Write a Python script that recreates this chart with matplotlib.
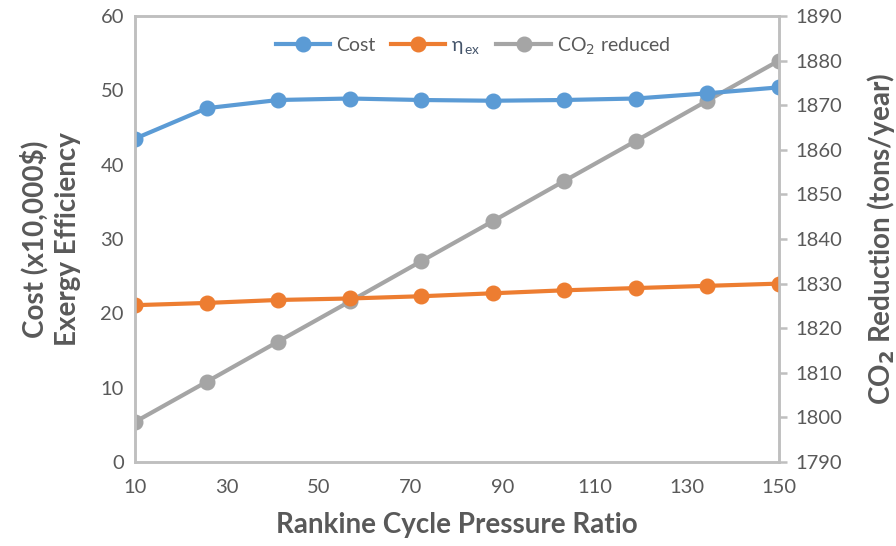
import matplotlib.pyplot as plt

plt.rcParams['font.family'] = ['Lato', 'DejaVu Sans']

# Rankine cycle pressure ratio sweep
pressure_ratio = [10, 25.6, 41.1, 56.7, 72.2, 87.8, 103.3, 118.9, 134.4, 150]
cost = [43.5, 47.6, 48.7, 48.9, 48.7, 48.6, 48.7, 48.9, 49.6, 50.4]
exergy_eff = [21.1, 21.4, 21.8, 22.0, 22.3, 22.7, 23.1, 23.4, 23.7, 24.0]
co2_reduced = [1799, 1808, 1817, 1826, 1835, 1844, 1853, 1862, 1871, 1880]

x_ticks = [10, 30, 50, 70, 90, 110, 130, 150]
left_ticks = [0, 10, 20, 30, 40, 50, 60]
right_ticks = [1790, 1800, 1810, 1820, 1830, 1840, 1850, 1860, 1870, 1880, 1890]

txt = '#595959'
spine_c = '#BFBFBF'

fig = plt.figure(figsize=(8.96, 5.46), dpi=100)
ax = fig.add_axes([0.1507, 0.1538, 0.7187, 0.8169])
ax2 = ax.twinx()

l1, = ax.plot(pressure_ratio, cost, color='#5B9BD5', lw=3, marker='o', ms=10.5, label='Cost')
l2, = ax.plot(pressure_ratio, exergy_eff, color='#ED7D31', lw=3, marker='o', ms=10.5,
              label=r'$\mathregular{\eta_{\,ex}}$')
l3, = ax2.plot(pressure_ratio, co2_reduced, color='#A5A5A5', lw=3, marker='o', ms=10.5,
               label=r'CO$_2$ reduced')
ax.set_zorder(ax2.get_zorder() + 1)
ax.patch.set_visible(False)

ax.set_xlim(10, 150)
ax.set_ylim(0, 60)
ax2.set_ylim(1790, 1890)
ax.set_xticks(x_ticks)
ax.set_yticks(left_ticks)
ax2.set_yticks(right_ticks)

for a in (ax, ax2):
    for s in a.spines.values():
        s.set_color(spine_c)
        s.set_linewidth(1.8)
ax.tick_params(axis='both', length=0, labelsize=14.5, labelcolor=txt, pad=8)
ax.tick_params(axis='x', pad=12)
ax2.tick_params(axis='y', length=6, width=1.8, color=spine_c, labelsize=14.5,
                labelcolor=txt, pad=6)

ax.set_xlabel('Rankine Cycle Pressure Ratio', fontsize=20, fontweight='bold', color=txt, labelpad=12)
ax.set_ylabel('Cost (x10,000$)\nExergy Efficiency', fontsize=20, fontweight='bold',
              color=txt, labelpad=14, linespacing=1.3)
ax2.set_ylabel(r'CO$_\mathbf{2}$ Reduction (tons/year)', fontsize=20, fontweight='bold',
               color=txt, labelpad=16)

leg = ax.legend(handles=[l1, l2, l3], loc='center', bbox_to_anchor=(0.525, 0.933),
                ncol=3, frameon=False, fontsize=14, handlelength=2.8,
                columnspacing=0.8, handletextpad=0.3)
for t in leg.get_texts():
    t.set_color(txt)
leg.get_texts()[1].set_color('#44546A')

fig.savefig('out.png', dpi=100)
